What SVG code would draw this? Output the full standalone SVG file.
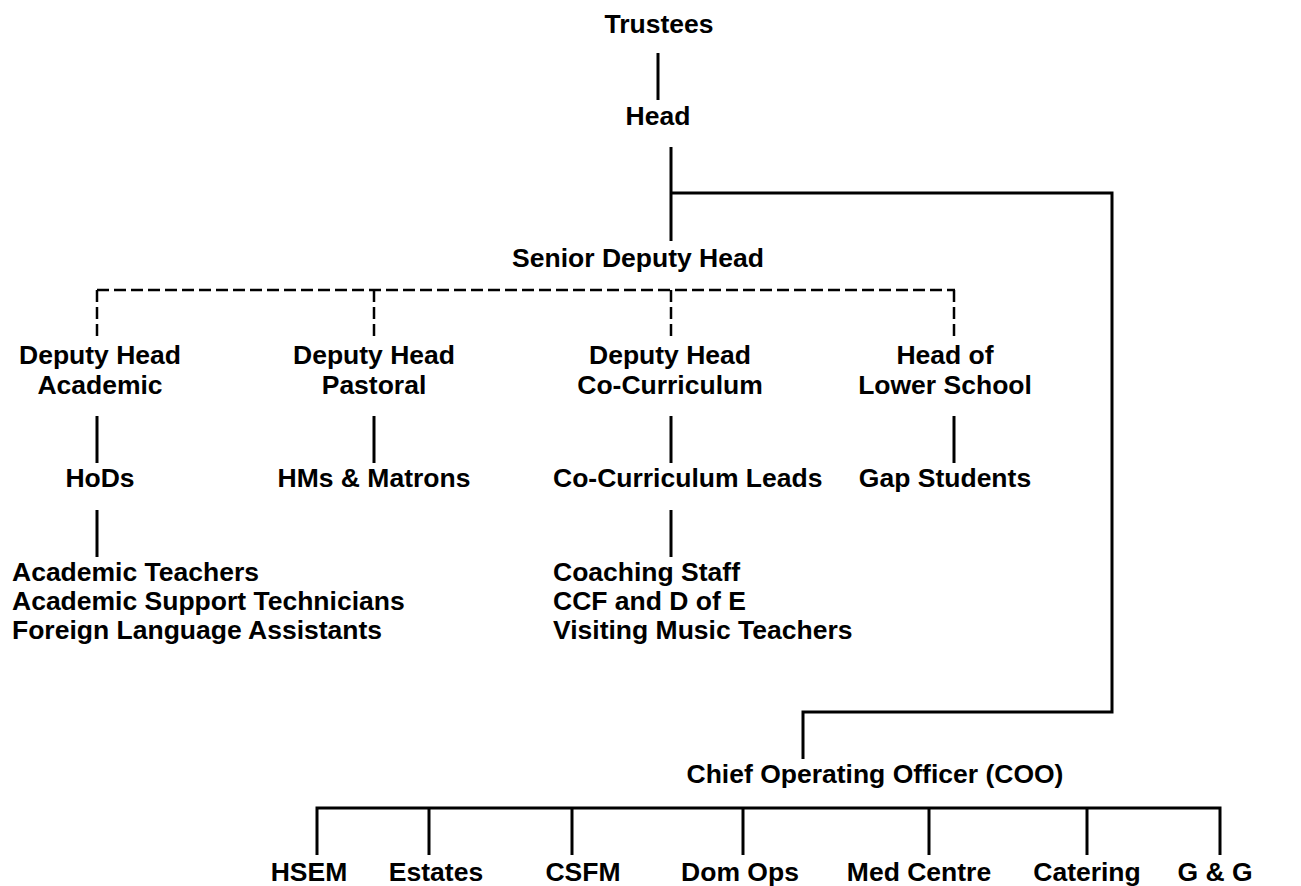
<svg xmlns="http://www.w3.org/2000/svg" width="1301" height="886" viewBox="0 0 1301 886">
<style>
text{font-family:"Liberation Sans",Arial,sans-serif;font-weight:bold;font-size:26.5px;fill:#000}
.c{text-anchor:middle}
.s{stroke:#000;stroke-width:3;fill:none}
.d{stroke:#000;stroke-width:2.5;fill:none;stroke-dasharray:12 5}
</style>
<rect width="1301" height="886" fill="#fff"/>
<g id="connectors">
<line class="s" x1="658" y1="53" x2="658" y2="100"/>
<line class="s" x1="671" y1="147" x2="671" y2="241"/>
<polyline class="s" points="671,193 1112,193 1112,712 803,712 803,759"/>
<line class="d" x1="97" y1="290" x2="955" y2="290"/>
<line class="d" x1="97" y1="290" x2="97" y2="338"/>
<line class="d" x1="374" y1="290" x2="374" y2="338"/>
<line class="d" x1="671" y1="290" x2="671" y2="338"/>
<line class="d" x1="954" y1="290" x2="954" y2="338"/>
<line class="s" x1="97" y1="416" x2="97" y2="463"/>
<line class="s" x1="374" y1="416" x2="374" y2="463"/>
<line class="s" x1="671" y1="416" x2="671" y2="463"/>
<line class="s" x1="954" y1="416" x2="954" y2="463"/>
<line class="s" x1="97" y1="510" x2="97" y2="557"/>
<line class="s" x1="671" y1="510" x2="671" y2="557"/>
<polyline class="s" points="317,855 317,808 1220,808 1220,855"/>
<line class="s" x1="429" y1="808" x2="429" y2="855"/>
<line class="s" x1="572" y1="808" x2="572" y2="855"/>
<line class="s" x1="743" y1="808" x2="743" y2="855"/>
<line class="s" x1="929" y1="808" x2="929" y2="855"/>
<line class="s" x1="1087" y1="808" x2="1087" y2="855"/>
</g>
<g id="trustees"><text class="c" x="659" y="33">Trustees</text></g>
<g id="head"><text class="c" x="658" y="125">Head</text></g>
<g id="senior-deputy-head"><text class="c" x="638" y="267">Senior Deputy Head</text></g>
<g id="dh-academic"><text class="c" x="100" y="364">Deputy Head</text><text class="c" x="100" y="394">Academic</text></g>
<g id="dh-pastoral"><text class="c" x="374" y="364">Deputy Head</text><text class="c" x="374" y="394">Pastoral</text></g>
<g id="dh-cocurriculum"><text class="c" x="670" y="364">Deputy Head</text><text class="c" x="670" y="394">Co-Curriculum</text></g>
<g id="head-lower-school"><text class="c" x="945" y="364">Head of</text><text class="c" x="945" y="394">Lower School</text></g>
<g id="hods"><text class="c" x="100" y="487">HoDs</text></g>
<g id="hms-matrons"><text class="c" x="374" y="487">HMs &amp; Matrons</text></g>
<g id="cc-leads"><text x="553" y="487">Co-Curriculum Leads</text></g>
<g id="gap-students"><text class="c" x="945" y="487">Gap Students</text></g>
<g id="academic-staff"><text x="12" y="581">Academic Teachers</text><text x="12" y="610">Academic Support Technicians</text><text x="12" y="639">Foreign Language Assistants</text></g>
<g id="cc-staff"><text x="553" y="581">Coaching Staff</text><text x="553" y="610">CCF and D of E</text><text x="553" y="639">Visiting Music Teachers</text></g>
<g id="coo"><text class="c" x="875" y="783">Chief Operating Officer (COO)</text></g>
<g id="hsem"><text class="c" x="309" y="881">HSEM</text></g>
<g id="estates"><text class="c" x="436" y="881">Estates</text></g>
<g id="csfm"><text class="c" x="583" y="881">CSFM</text></g>
<g id="dom-ops"><text class="c" x="740" y="881">Dom Ops</text></g>
<g id="med-centre"><text class="c" x="919" y="881">Med Centre</text></g>
<g id="catering"><text class="c" x="1087" y="881">Catering</text></g>
<g id="g-g"><text class="c" x="1215" y="881">G &amp; G</text></g>
</svg>
